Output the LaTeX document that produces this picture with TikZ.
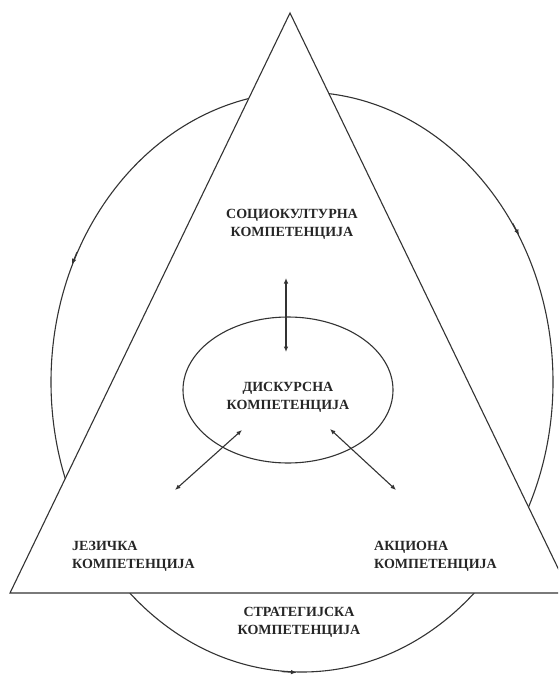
\documentclass[tikz,border=0pt]{standalone}
\usepackage{fontspec}
\setmainfont{Liberation Serif}
\usetikzlibrary{shapes.geometric,arrows.meta}
\begin{document}
\begin{tikzpicture}[x=1pt,y=-1pt,
  ln/.style={draw=black!80,line width=1.1pt},
  tip/.style={ln,-{Latex[length=6pt,width=4.5pt]}},
  dtip/.style={ln,{Latex[length=5.5pt,width=4.5pt]}-{Latex[length=5.5pt,width=4.5pt]}},
  lbl/.style={font=\bfseries\fontsize{14}{18}\selectfont,text=black!85,inner sep=0pt}]
\useasboundingbox (0,0) rectangle (558,677);
\clip (0,0) rectangle (558,677);
\fill[white] (0,0) rectangle (558,677);
% outer ellipse
\node[ellipse,ln,minimum width=502pt,minimum height=580pt,inner sep=0pt] (outer) at (302,382) {};
\draw[tip] (outer.37) -- (outer.34);
\draw[tip] (outer.150) -- (outer.153);
\draw[tip] (outer.266) -- (outer.269);
% triangle
\coordinate (apex) at (290,13);
\coordinate (bl) at (10,593);
\coordinate (br) at (570,593);
\filldraw[ln,fill=white] (apex) -- (bl) -- (br) -- cycle;
% inner ellipse
\node[ellipse,ln,minimum width=210pt,minimum height=146pt,inner sep=0pt] (inner) at (288,390) {};
% arrows
\coordinate (vt) at (286,278);
\coordinate (vb) at (286,352);
\coordinate (la) at (242,430);
\coordinate (lb) at (175,490);
\coordinate (ra) at (330,429);
\coordinate (rb) at (396,490);
\draw[dtip] (vt) -- (vb);
\draw[dtip] (la) -- (lb);
\draw[dtip] (ra) -- (rb);
% labels
\node[lbl,align=center] (socio) at (292,224) {СОЦИОКУЛТУРНА\\КОМПЕТЕНЦИЈА};
\node[lbl,align=center] (disk) at (288,397) {ДИСКУРСНА\\КОМПЕТЕНЦИЈА};
\node[lbl,align=left,anchor=west] (jez) at (72,556) {ЈЕЗИЧКА\\КОМПЕТЕНЦИЈА};
\node[lbl,align=left,anchor=west] (akc) at (374,556) {АКЦИОНА\\КОМПЕТЕНЦИЈА};
\node[lbl,align=center] (strat) at (299,622) {СТРАТЕГИЈСКА\\КОМПЕТЕНЦИЈА};
\end{tikzpicture}
\end{document}
